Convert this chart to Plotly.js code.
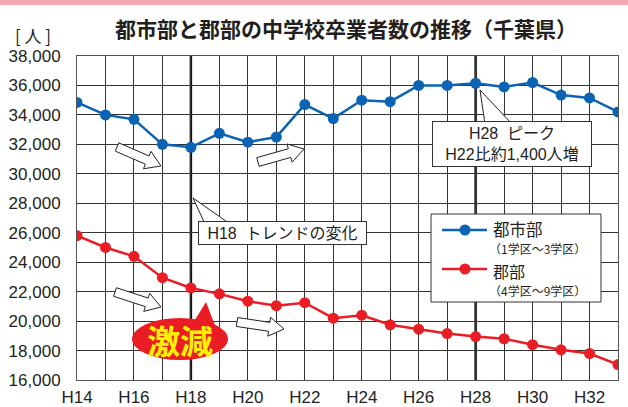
<!DOCTYPE html>
<html><head><meta charset="utf-8">
<script src="https://cdn.plot.ly/plotly-3.0.1.min.js"></script>
<style>html,body{margin:0;padding:0;background:#fff;}#chart{width:628px;height:407px;}</style>
</head><body><div id="chart"></div>
<script>
// ---- data ----
const yearNums = [14,15,16,17,18,19,20,21,22,23,24,25,26,27,28,29,30,31,32,33];
const xTickLabels = ['H14','','H16','','H18','','H20','','H22','','H24','','H26','','H28','','H30','','H32',''];
const urban = [34850,34000,33700,32000,31800,32750,32150,32500,34700,33750,35000,34900,36000,36000,36150,35900,36200,35350,35150,34200];
const rural = [25800,25000,24400,22950,22250,21850,21350,21050,21250,20200,20400,19750,19450,19150,18950,18800,18400,18050,17800,17050];
const yTicks = [16000,18000,20000,22000,24000,26000,28000,30000,32000,34000,36000,38000];
const seriesNames = ['都市部','郡部'];
const seriesSub = ['（1学区～3学区）','（4学区～9学区）'];
const titleText = '都市部と郡部の中学校卒業者数の推移（千葉県）';

// ---- styling ----
const BLUE = '#0b63b3', RED = '#ea1d25';
const FONT = 'Liberation Sans, Arial, "Noto Sans CJK JP", sans-serif';
const JFONT = '"Noto Sans CJK JP", "Liberation Sans", sans-serif';
const L = 77, R = 618, T = 56, B = 380;
const X = px => (px - L) / (R - L);
const Y = py => (B - py) / (B - T);

function blockArrow(x1, y1, x2, y2) {
  const dx = x2 - x1, dy = y2 - y1, len = Math.hypot(dx, dy);
  const ux = dx / len, uy = dy / len, nx = -uy, ny = ux;
  const sh = 4.5, hh = 9.5, hl = 15;
  const neckx = x2 - ux * hl, necky = y2 - uy * hl;
  const pts = [
    [x1 + nx * sh, y1 + ny * sh], [neckx + nx * sh, necky + ny * sh], [neckx + nx * hh, necky + ny * hh],
    [x2, y2], [neckx - nx * hh, necky - ny * hh], [neckx - nx * sh, necky - ny * sh], [x1 - nx * sh, y1 - ny * sh]
  ];
  return 'M' + pts.map(p => X(p[0]).toFixed(5) + ',' + Y(p[1]).toFixed(5)).join(' L') + ' Z';
}
function tri(a, b, c) {
  return 'M' + [a, b, c].map(p => X(p[0]).toFixed(5) + ',' + Y(p[1]).toFixed(5)).join(' L') + ' Z';
}
const arrowStyle = {type: 'path', xref: 'paper', yref: 'paper', fillcolor: '#ffffff', line: {color: '#222', width: 1}, layer: 'above'};

const traces = [
  {x: yearNums, y: urban, name: seriesNames[0], type: 'scatter', mode: 'lines+markers',
   line: {color: BLUE, width: 2.5}, marker: {color: BLUE, size: 11}, showlegend: false},
  {x: yearNums, y: rural, name: seriesNames[1], type: 'scatter', mode: 'lines+markers',
   line: {color: RED, width: 2.5}, marker: {color: RED, size: 11}, showlegend: false}
];

const shapes = [
  {type: 'rect', xref: 'paper', yref: 'paper', x0: X(0), x1: X(628), y0: Y(5), y1: Y(0), fillcolor: '#f5a9b2', line: {width: 0}},
  {type: 'line', xref: 'x', yref: 'paper', x0: 18, x1: 18, y0: 0, y1: 1, line: {color: '#111', width: 2.5}, layer: 'between'},
  {type: 'line', xref: 'x', yref: 'paper', x0: 28, x1: 28, y0: 0, y1: 1, line: {color: '#111', width: 2.5}, layer: 'between'},
  Object.assign({path: blockArrow(117, 147, 161, 166)}, arrowStyle),
  Object.assign({path: blockArrow(258, 162, 304, 149)}, arrowStyle),
  Object.assign({path: blockArrow(115, 292, 161, 307)}, arrowStyle),
  Object.assign({path: blockArrow(237, 322, 284, 329)}, arrowStyle),
  {type: 'path', xref: 'paper', yref: 'paper', path: tri([480, 90], [485, 124], [512, 124]), fillcolor: '#fff', line: {color: '#222', width: 1}, layer: 'above'},
  {type: 'path', xref: 'paper', yref: 'paper', path: tri([193, 198], [205, 224], [230, 224]), fillcolor: '#fff', line: {color: '#222', width: 1}, layer: 'above'},
  {type: 'path', xref: 'paper', yref: 'paper', path: tri([206, 302], [190, 328], [216, 328]), fillcolor: RED, line: {width: 0}, layer: 'above'},
  {type: 'circle', xref: 'paper', yref: 'paper', x0: X(132), x1: X(228), y0: Y(360), y1: Y(318), fillcolor: RED, line: {width: 0}, layer: 'above'},
  {type: 'rect', xref: 'paper', yref: 'paper', x0: X(431), x1: X(601), y0: Y(302), y1: Y(214), fillcolor: '#fff', line: {color: '#333', width: 1}, layer: 'above'},
  {type: 'line', xref: 'paper', yref: 'paper', x0: X(442), x1: X(487), y0: Y(230), y1: Y(230), line: {color: BLUE, width: 2.5}, layer: 'above'},
  {type: 'circle', xref: 'paper', yref: 'paper', x0: X(459.5), x1: X(470.5), y0: Y(235.5), y1: Y(224.5), fillcolor: BLUE, line: {width: 0}, layer: 'above'},
  {type: 'line', xref: 'paper', yref: 'paper', x0: X(442), x1: X(487), y0: Y(269), y1: Y(269), line: {color: RED, width: 2.5}, layer: 'above'},
  {type: 'circle', xref: 'paper', yref: 'paper', x0: X(459.5), x1: X(470.5), y0: Y(274.5), y1: Y(263.5), fillcolor: RED, line: {width: 0}, layer: 'above'}
];

const legText = (x, y, t, size) => ({xref: 'paper', yref: 'paper', x: X(x), y: Y(y), text: t, showarrow: false,
  font: {family: JFONT, size: size, color: '#231f20'}, xanchor: 'left', yanchor: 'middle', borderpad: 0});

const annotations = [
  {xref: 'paper', yref: 'paper', x: X(33), y: Y(36), text: '[ 人 ]', showarrow: false, font: {family: JFONT, size: 17, color: '#231f20'}, xanchor: 'center', yanchor: 'middle'},
  {xref: 'paper', yref: 'paper', x: X(512), y: Y(144), text: 'H28  ピーク<br>H22比約1,400人増', showarrow: false,
   font: {family: FONT, size: 16, color: '#231f20'}, bgcolor: '#fff', bordercolor: '#333', borderwidth: 1, borderpad: 1,
   width: 156, height: 42, align: 'center', xanchor: 'center', yanchor: 'middle'},
  {xref: 'paper', yref: 'paper', x: X(282.5), y: Y(233), text: 'H18  トレンドの変化', showarrow: false,
   font: {family: FONT, size: 16, color: '#231f20'}, bgcolor: '#fff', bordercolor: '#333', borderwidth: 1, borderpad: 1,
   width: 165, height: 20, align: 'center', xanchor: 'center', yanchor: 'middle'},
  {xref: 'paper', yref: 'paper', x: X(180), y: Y(340), text: '<b>激減</b>', showarrow: false,
   font: {family: JFONT, size: 33, color: '#fff200'}, xanchor: 'center', yanchor: 'middle'},
  legText(492, 229, seriesNames[0], 16.5),
  legText(488, 248, seriesSub[0], 12),
  legText(492, 270.5, seriesNames[1], 16),
  legText(488, 290, seriesSub[1], 12)
];

const layout = {
  width: 628, height: 407,
  margin: {l: L, r: 628 - R, t: T, b: 407 - B, pad: 0},
  paper_bgcolor: '#fff', plot_bgcolor: '#fff',
  title: {text: '<b>' + titleText + '</b>', font: {family: JFONT, size: 21, color: '#231f20'},
          xref: 'paper', x: X(346), xanchor: 'center', yref: 'container', y: 1 - 30 / 407, yanchor: 'middle'},
  xaxis: {range: [14, 33], tickvals: yearNums, ticktext: xTickLabels, showgrid: true, gridcolor: '#333', gridwidth: 1,
          zeroline: false, showline: true, mirror: true, linecolor: '#555', linewidth: 1, ticks: '', ticklabelstandoff: 2,
          tickfont: {family: FONT, size: 17, color: '#231f20'}, fixedrange: true},
  yaxis: {range: [16000, 38000], tickvals: yTicks, tickformat: ',d', showgrid: true, gridcolor: '#333', gridwidth: 1,
          zeroline: false, showline: true, mirror: true, linecolor: '#555', linewidth: 1, ticks: '', ticklabelstandoff: 12,
          tickfont: {family: FONT, size: 17, color: '#231f20'}, fixedrange: true},
  shapes: shapes,
  annotations: annotations,
  showlegend: false
};
Plotly.newPlot('chart', traces, layout, {displayModeBar: false, staticPlot: true});
</script></body></html>
